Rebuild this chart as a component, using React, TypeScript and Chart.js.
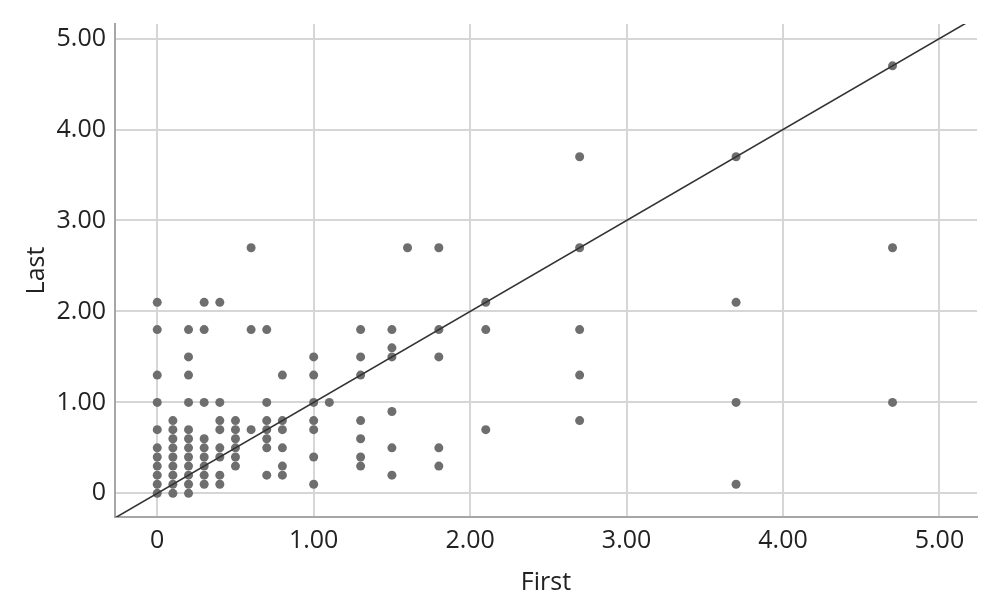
import React, { useEffect, useRef } from "react";
import { Chart, registerables } from "chart.js";

Chart.register(...registerables);

// x positions (First) and their y values (Last) per column
const columnX: number[] = [0, 0.1, 0.2, 0.3, 0.4, 0.5, 0.6, 0.7, 0.8, 1.0, 1.1, 1.3, 1.5, 1.6, 1.8, 2.1, 2.7, 3.7, 4.7];
const columnY: number[][] = [
  [0, 0.1, 0.2, 0.3, 0.4, 0.5, 0.7, 1.0, 1.3, 1.8, 2.1],
  [0, 0.1, 0.2, 0.3, 0.4, 0.5, 0.6, 0.7, 0.8],
  [0, 0.1, 0.2, 0.3, 0.4, 0.5, 0.6, 0.7, 1.0, 1.3, 1.5, 1.8],
  [0.1, 0.2, 0.3, 0.4, 0.5, 0.6, 1.0, 1.8, 2.1],
  [0.1, 0.2, 0.4, 0.5, 0.7, 0.8, 1.0, 2.1],
  [0.3, 0.4, 0.5, 0.6, 0.7, 0.8],
  [0.7, 1.8, 2.7],
  [0.2, 0.5, 0.6, 0.7, 0.8, 1.0, 1.8],
  [0.2, 0.3, 0.5, 0.7, 0.8, 1.3],
  [0.1, 0.4, 0.7, 0.8, 1.0, 1.3, 1.5],
  [1.0],
  [0.3, 0.4, 0.6, 0.8, 1.3, 1.5, 1.8],
  [0.2, 0.5, 0.9, 1.5, 1.6, 1.8],
  [2.7],
  [0.3, 0.5, 1.5, 1.8, 2.7],
  [0.7, 1.8, 2.1],
  [0.8, 1.3, 1.8, 2.7, 3.7],
  [0.1, 1.0, 2.1, 3.7],
  [1.0, 2.7, 4.7],
];
const refLineX: number[] = [-0.3, 5.3];
const refLineY: number[] = [-0.3, 5.3];
const tickValues: number[] = [0, 1, 2, 3, 4, 5];
const xTitle = "First";
const yTitle = "Last";

const FONT = "'Open Sans', 'Noto Sans', sans-serif";

export default function App() {
  const ref = useRef<HTMLCanvasElement | null>(null);
  useEffect(() => {
    if (!ref.current) return;
    const points: { x: number; y: number }[] = [];
    columnX.forEach((x, i) => columnY[i].forEach((y) => points.push({ x, y })));
    const line = refLineX.map((x, i) => ({ x, y: refLineY[i] }));
    const fmt = (v: any) => (Number(v) === 0 ? "0" : Number(v).toFixed(2));
    const chart = new Chart(ref.current, {
      type: "scatter",
      data: {
        datasets: [
          {
            type: "line",
            data: line,
            borderColor: "#333333",
            borderWidth: 1.6,
            pointRadius: 0,
            fill: false,
          } as any,
          {
            data: points,
            backgroundColor: "#6e6e6e",
            borderWidth: 0,
            pointRadius: 4.5,
          },
        ],
      },
      options: {
        animation: false,
        responsive: true,
        maintainAspectRatio: false,
        layout: { padding: { left: 14, top: 22, right: 24, bottom: 0 } },
        plugins: { legend: { display: false }, tooltip: { enabled: false } },
        scales: {
          x: {
            type: "linear",
            min: -0.27,
            max: 5.24,
            afterBuildTicks: (s: any) => {
              s.ticks = tickValues.map((v) => ({ value: v }));
            },
            afterFit: (s: any) => {
              s.height = 99;
            },
            grid: { color: "#d6d6d6", lineWidth: 2, drawTicks: false },
            border: { display: true, color: "#a6a6a6", width: 2 },
            ticks: {
              callback: fmt,
              color: "#222222",
              font: { family: FONT, size: 25 },
              padding: 9,
              maxRotation: 0,
            },
            title: {
              display: true,
              text: xTitle,
              color: "#222222",
              font: { family: FONT, size: 25 },
              padding: { top: 4, bottom: 18 },
            },
          },
          y: {
            type: "linear",
            min: -0.26,
            max: 5.16,
            afterBuildTicks: (s: any) => {
              s.ticks = tickValues.map((v) => ({ value: v }));
            },
            afterFit: (s: any) => {
              s.width = 101;
            },
            grid: { color: "#d6d6d6", lineWidth: 2, drawTicks: false },
            border: { display: true, color: "#a6a6a6", width: 2 },
            ticks: {
              callback: fmt,
              color: "#222222",
              font: { family: FONT, size: 25 },
              padding: 9,
            },
            title: {
              display: true,
              text: yTitle,
              color: "#222222",
              font: { family: FONT, size: 25 },
              padding: { top: 8, bottom: 4 },
            },
          },
        },
      },
    });
    return () => chart.destroy();
  }, []);
  return (
    <div style={{ position: "fixed", left: 0, top: 0, width: 1001, height: 616, background: "#ffffff" }}>
      <canvas ref={ref} />
    </div>
  );
}
